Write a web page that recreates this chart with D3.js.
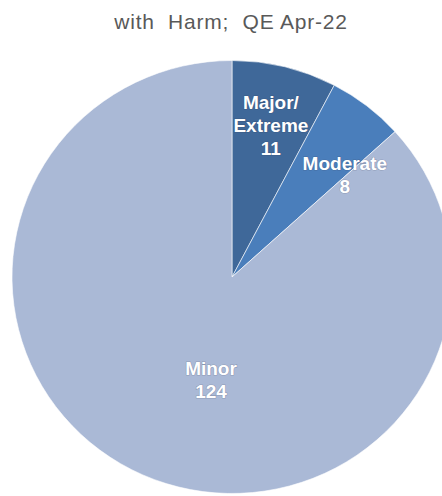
<!DOCTYPE html>
<html>
<head>
<meta charset="utf-8">
<script src="https://cdn.jsdelivr.net/npm/d3@7"></script>
<style>
  body { margin: 0; background: #fff; }
  svg { display: block; }
</style>
</head>
<body>
<div id="holder"></div>
<script>
const categories = ["Major/\nExtreme", "Moderate", "Minor"];
const values = [11, 8, 124];
const colors = ["#3F6899", "#4A7EBB", "#AAB9D6"];
const title = "with  Harm;  QE Apr-22";

const width = 442;
const height = 496;
const cx = 232;
const cy = 277;
const radius = 220;
const squash = 216.5 / 220;

const svg = d3.select("#holder")
    .append("svg")
    .attr("width", width)
    .attr("height", height);

svg.append("text")
    .attr("x", 231)
    .attr("y", 29)
    .attr("text-anchor", "middle")
    .style("font-family", "'Liberation Sans', Arial, sans-serif")
    .style("font-size", "21px")
    .style("letter-spacing", "0.8px")
    .attr("fill", "#595959")
    .style("white-space", "pre")
    .text(title);

const data = categories.map((c, i) => ({ label: c, value: values[i], color: colors[i] }));

const pie = d3.pie()
    .sort(null)
    .value(d => d.value);

const arc = d3.arc()
    .innerRadius(0)
    .outerRadius(radius);

const arcs = pie(data);

// pie in the picture is a touch flatter than round
svg.append("g")
    .attr("transform", `translate(${cx}, ${cy}) scale(1, ${squash})`)
    .selectAll("path")
    .data(arcs)
    .enter()
    .append("path")
    .attr("d", arc)
    .attr("fill", d => d.data.color)
    .attr("stroke", "#ffffff")
    .attr("stroke-width", 0.6);

// excel "best fit" label spots, as radius fraction + angle nudge
const labelRadius = [0.71, 0.69, 0.48];
const labelShift = [0.01, 0.179, -0.217];

const g = svg.append("g")
    .attr("transform", `translate(${cx}, ${cy})`);

g.selectAll("text.lbl")
    .data(arcs)
    .enter()
    .append("text")
    .attr("class", "lbl")
    .attr("text-anchor", "middle")
    .style("font-family", "'Liberation Sans', Arial, sans-serif")
    .style("font-size", "19px")
    .style("font-weight", "bold")
    .attr("fill", "#ffffff")
    .style("paint-order", "stroke")
    .attr("stroke", "rgba(50,50,70,0.25)")
    .attr("stroke-width", 1.2)
    .each(function(d, i) {
        const a = (d.startAngle + d.endAngle) / 2 + labelShift[i];
        const r = radius * labelRadius[i];
        const x = Math.sin(a) * r;
        const y = -Math.cos(a) * r;
        const lines = d.data.label.split("\n").concat([String(d.data.value)]);
        const lh = 23;
        const y0 = y - (lines.length - 1) * lh / 2 + 6;
        lines.forEach((t, k) => {
            d3.select(this).append("tspan")
                .attr("x", x)
                .attr("y", y0 + k * lh)
                .text(t);
        });
    });
</script>
</body>
</html>
